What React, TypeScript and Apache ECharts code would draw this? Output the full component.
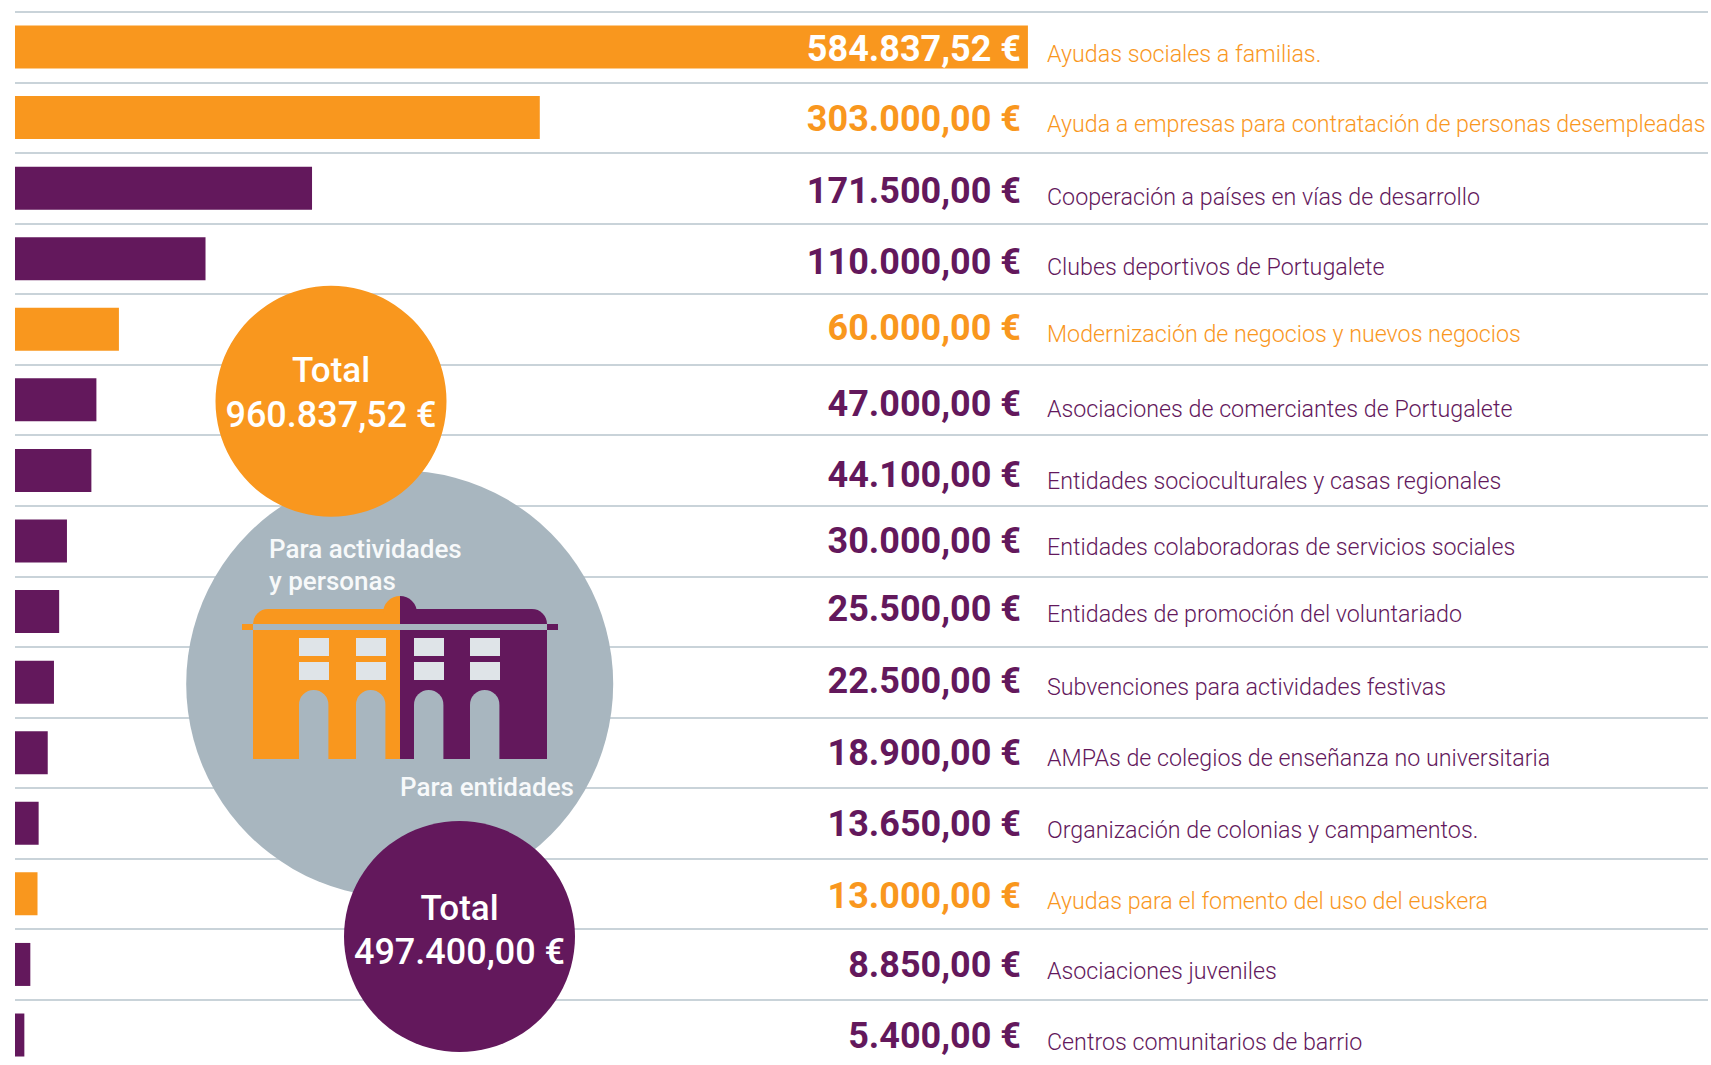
import React, { useEffect, useRef } from "react";
import * as echarts from "echarts";

const ORANGE = "#f9971e";
const PURPLE = "#63185c";
const GREY = "#a8b6bf";
const PANE = "#dfe4e8";
const RULE = "#b7c4cc";
const FONT = "Roboto, 'Noto Sans', sans-serif";

const categories = [
  "Ayudas sociales a familias.",
  "Ayuda a empresas para contratación de personas desempleadas",
  "Cooperación a países en vías de desarrollo",
  "Clubes deportivos de Portugalete",
  "Modernización de negocios y nuevos negocios",
  "Asociaciones de comerciantes de Portugalete",
  "Entidades socioculturales y casas regionales",
  "Entidades colaboradoras de servicios sociales",
  "Entidades de promoción del voluntariado",
  "Subvenciones para actividades festivas",
  "AMPAs de colegios de enseñanza no universitaria",
  "Organización de colonias y campamentos.",
  "Ayudas para el fomento del uso del euskera",
  "Asociaciones juveniles",
  "Centros comunitarios de barrio",
];
const amounts = [584837.52, 303000, 171500, 110000, 60000, 47000, 44100, 30000, 25500, 22500, 18900, 13650, 13000, 8850, 5400];
const forPeople = [true, true, false, false, true, false, false, false, false, false, false, false, true, false, false];
const totalPeople = "960.837,52 €";
const totalEntities = "497.400,00 €";

const euro = (v: number) => {
  const [a, b] = v.toFixed(2).split(".");
  return a.replace(/\B(?=(\d{3})+$)/g, ".") + "," + b + " €";
};

const bubbleText = (x: number, y: number, text: string, size: number, align = "center", weight: any = 500, fill = "#fff") => ({
  type: "text", z: 20, x, y,
  style: { text, x: 0, y: 0, fill, font: `${weight} ${size}px ${FONT}`, textAlign: align, textVerticalAlign: "bottom" },
});
const box = (x: number, y: number, width: number, height: number, fill: string, r: any = 0, z = 15) => ({
  type: "rect", z, shape: { x, y, width, height, r }, style: { fill },
});

export default function App() {
  const ref = useRef<HTMLDivElement>(null);
  useEffect(() => {
    document.body.style.margin = "0";
    const chart = echarts.init(ref.current!, null, { renderer: "svg" });
    // the source's rows are not perfectly evenly spaced: small per-row text adjustment
    const textShift = [0, -1, 1, 1, -3, 2, 3, -2, -5, -3, -2, -1, 0, -1, -1];
    const renderText = (_: any, api: any) => {
      const i = api.value(0);
      const y = api.coord([0, i])[1] + 14 + textShift[i];
      const colour = forPeople[i] ? ORANGE : PURPLE;
      return {
        type: "group",
        children: [
          { type: "text", x: 1021, y: y + 6, style: { text: euro(amounts[i]), fill: i === 0 ? "#fff" : colour, font: `700 36px ${FONT}`, textAlign: "right", textVerticalAlign: "bottom" } },
          { type: "text", x: 1047, y: y + 5, style: { text: categories[i], fill: colour, font: `300 23.25px ${FONT}`, textAlign: "left", textVerticalAlign: "bottom" } },
        ],
      };
    };
    chart.setOption({
      animation: false,
      backgroundColor: "#fff",
      grid: { left: 15, top: 11.7, width: 1693, height: 1058.6, containLabel: false },
      xAxis: { type: "value", min: 0, max: 977500, show: false },
      yAxis: {
        type: "category", inverse: true, data: categories,
        axisLine: { show: false }, axisTick: { show: false }, axisLabel: { show: false },
        splitLine: { show: true, showMaxLine: false, lineStyle: { color: RULE, width: 1.5 } },
      },
      series: [
        {
          type: "bar", barWidth: 43, silent: true, z: 2,
          data: amounts.map((v, i) => ({ value: v, itemStyle: { color: forPeople[i] ? ORANGE : PURPLE } })),
        },
        {
          type: "custom", z: 3, silent: true, clip: false,
          encode: { x: 1, y: 0 },
          data: amounts.map((v, i) => [i, v]),
          renderItem: renderText,
        },
      ],
      graphic: {
        elements: [
          { type: "circle", z: 10, shape: { cx: 399.7, cy: 684, r: 213.5 }, style: { fill: GREY } },
          { type: "circle", z: 30, shape: { cx: 331, cy: 401.3, r: 115.5 }, style: { fill: ORANGE } },
          { type: "circle", z: 30, shape: { cx: 459.5, cy: 936.5, r: 115.5 }, style: { fill: PURPLE } },
          // building
          box(253, 609, 147, 150, ORANGE, [15, 0, 0, 0]),
          box(400, 609, 147, 150, PURPLE, [0, 15, 0, 0]),
          box(383, 596, 17, 20, ORANGE, [17, 0, 0, 0]),
          box(400, 596, 17, 20, PURPLE, [0, 17, 0, 0]),
          box(242, 624, 11, 6, ORANGE),
          box(547, 624, 11, 6, PURPLE),
          box(253, 624, 294, 6, GREY, 0, 16),
          ...[299, 356, 414, 470].flatMap((x) => [
            box(x, 638, 30, 18, PANE, 0, 16),
            box(x, 662, 30, 18, PANE, 0, 16),
            box(x, 690, 29.4, 69.5, GREY, [14.7, 14.7, 0, 0], 16),
          ]),
          // captions
          { ...bubbleText(331, 388, "Total", 35), z: 40 },
          { ...bubbleText(331, 433, totalPeople, 36), z: 40 },
          { ...bubbleText(459.5, 926, "Total", 35), z: 40 },
          { ...bubbleText(459.5, 970, totalEntities, 36), z: 40 },
          bubbleText(269, 562, "Para actividades", 26, "left", 500, "#f7f9fa"),
          bubbleText(269, 594, "y personas", 26, "left", 500, "#f7f9fa"),
          bubbleText(400, 800, "Para entidades", 26, "left", 500, "#f7f9fa"),
        ],
      },
    });
    return () => chart.dispose();
  }, []);
  return (
    <div style={{ position: "absolute", left: 0, top: 0, width: 1711, height: 1065, overflow: "hidden", background: "#fff" }}>
      <div ref={ref} style={{ width: 1711, height: 1075 }} />
    </div>
  );
}
